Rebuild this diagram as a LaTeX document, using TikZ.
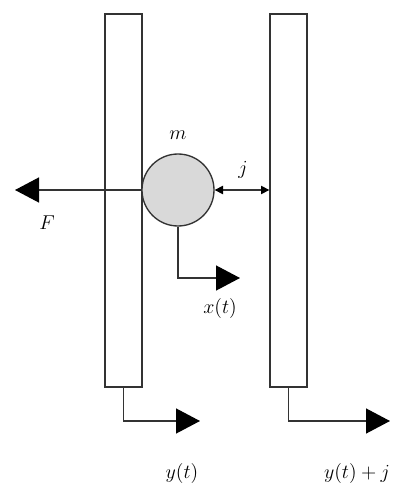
\documentclass[tikz,border=0pt]{standalone}
\usetikzlibrary{arrows.meta}
\tikzset{
  plate/.style={draw, rectangle, minimum width=37*0.6pt, minimum height=373*0.6pt, inner sep=0pt},
  bigarrow/.style={-{Triangle[length=14.4pt,width=15pt,color=black]}},
  gap/.style={{Triangle[length=5pt,width=5pt,color=black]}-{Triangle[length=5pt,width=5pt,color=black]}}
}
\begin{document}
\begin{tikzpicture}[x=0.6pt, y=-0.6pt, line width=0.8pt, draw=black!80, font=\large]
\useasboundingbox (0,0) rectangle (405,500);
\node[plate] (plateL) at (123.5,200.5) {};
\node[plate] (plateR) at (288.5,200.5) {};
\node[draw, circle, fill=black!15, minimum size=72*0.6pt, inner sep=0pt] (mass) at (178,190) {};
\coordinate (Ftip) at (15,190);
\coordinate (xtip) at (240,278);
\coordinate (ytip) at (200,421);
\coordinate (yjtip) at (390,421);
\path[draw, bigarrow] (mass.west) -- (Ftip);
\path[draw, bigarrow] (mass.south) |- (xtip);
\path[draw, bigarrow] (plateL.south) |- (ytip);
\path[draw, bigarrow] (plateR.south) |- (yjtip);
\path[draw, gap] (mass.east) -- (plateR.west |- mass.east);
\node (mlabel) at (178,135) {$m$};
\node (jlabel) at (243,170) {$j$};
\node (Flabel) at (47,223) {$F$};
\node (xlabel) at (220,308) {$x(t)$};
\node (ylabel) at (182,473) {$y(t)$};
\node (yjlabel) at (357,473) {$y(t)+j$};
\end{tikzpicture}
\end{document}
